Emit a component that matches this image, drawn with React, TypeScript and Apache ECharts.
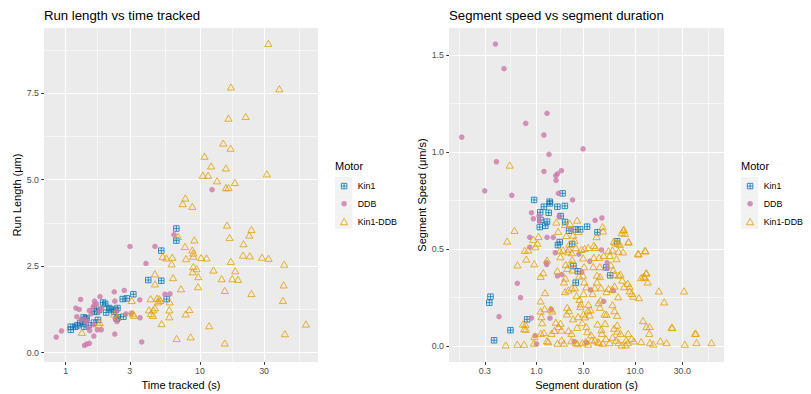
import React, { useEffect, useRef } from 'react';
import * as echarts from 'echarts';

// ---------- Data: left panel (time tracked [s], run length [µm]) ----------
const runKin1: [number, number][] = [
  [6.67, 3.59], [6.67, 3.24], [5.15, 2.95], [4.12, 2.10], [5.15, 2.08], [3.19, 1.69], [2.85, 1.57],
  [2.66, 1.55], [5.65, 1.55], [1.90, 1.45], [1.97, 1.41], [2.43, 1.29], [2.36, 1.24], [2.29, 1.18],
  [2.11, 1.29], [2.16, 1.25], [2.00, 1.16], [1.77, 1.24], [1.64, 1.20], [1.70, 1.18], [2.69, 1.04],
  [2.45, 1.02], [2.40, 0.98], [1.74, 0.95], [1.62, 0.87], [1.48, 0.79], [1.43, 1.00], [1.36, 1.02],
  [1.40, 0.97], [1.34, 0.89], [1.28, 0.85], [1.22, 0.79], [1.18, 0.75], [1.37, 0.75], [1.09, 0.75],
  [1.09, 0.66],
];
const runDdb: [number, number][] = [
  [12.3, 4.71], [6.41, 3.41], [3.01, 3.07], [4.62, 3.07], [3.96, 2.58], [2.30, 1.76], [2.73, 1.80],
  [1.80, 1.62], [1.29, 1.54], [1.64, 1.49], [1.70, 1.41], [1.63, 1.37], [1.60, 1.32], [1.19, 1.29],
  [1.26, 1.25], [1.50, 1.22], [1.21, 1.04], [1.29, 0.95], [2.32, 1.49], [2.40, 1.21], [3.56, 1.53],
  [5.49, 1.69], [5.98, 1.70], [2.81, 1.12], [3.08, 1.14], [3.58, 1.01], [2.34, 0.98], [2.41, 0.90],
  [1.38, 0.97], [1.43, 0.89], [1.47, 0.73], [1.62, 0.81], [1.51, 0.64], [1.72, 0.66], [1.84, 0.66],
  [1.62, 0.48], [2.32, 0.54], [0.85, 0.45], [0.93, 0.63], [1.38, 0.21], [1.43, 0.25], [1.50, 0.27],
  [3.68, 0.31], [1.76, 1.18], [1.85, 1.29], [1.55, 1.12],
];
const runKin1Ddb: [number, number][] = [
  [32.3, 8.94], [17.0, 7.68], [39.0, 7.63], [16.3, 6.78], [21.9, 6.83], [14.9, 6.06], [16.9, 5.91],
  [10.8, 5.68], [12.1, 5.40], [10.5, 5.13], [11.5, 5.13], [15.6, 5.34], [13.4, 4.97], [18.2, 4.92],
  [15.6, 4.77], [16.3, 4.77], [31.5, 5.17], [7.78, 4.47], [7.43, 4.31], [8.77, 4.23], [15.9, 3.69],
  [24.2, 3.56], [16.6, 3.33], [23.3, 3.40], [21.1, 3.15], [9.07, 3.26], [6.86, 3.36], [7.73, 3.07],
  [8.77, 2.97], [8.92, 2.88], [5.27, 2.78], [5.61, 2.74], [6.22, 2.76], [8.92, 2.79], [7.87, 2.72],
  [10.2, 2.75], [11.2, 2.74], [20.9, 2.82], [23.5, 2.80], [29.0, 2.76], [32.4, 2.73], [42.4, 2.56],
  [6.15, 2.57], [17.0, 2.64], [8.92, 2.49], [9.44, 2.43], [8.82, 2.34], [12.6, 2.39], [18.3, 2.37],
  [9.72, 2.20], [6.30, 2.17], [14.5, 2.14], [17.4, 2.14], [19.2, 2.12], [4.62, 2.28], [4.62, 1.99],
  [42.0, 1.96], [9.67, 1.91], [7.22, 1.85], [15.3, 1.80], [24.2, 1.71], [41.5, 1.51], [4.29, 1.56],
  [4.98, 1.56], [5.07, 1.51], [4.87, 1.47], [5.94, 1.47], [3.10, 1.51], [4.17, 1.24], [4.49, 1.24],
  [4.62, 1.30], [5.91, 1.24], [4.31, 1.13], [4.47, 1.08], [3.17, 1.13], [3.23, 1.08], [5.91, 1.04],
  [8.33, 1.25], [7.82, 1.12], [2.29, 1.12], [2.42, 1.04], [5.18, 0.84], [11.7, 0.78], [61.5, 0.83],
  [42.9, 0.55], [6.70, 0.41], [8.52, 0.46], [15.3, 0.28], [1.32, 0.59], [1.76, 0.81], [1.79, 0.88],
  [4.79, 1.58],
];

// ---------- Data: right panel (segment duration [s], segment speed [µm/s]) ----------
const segKin1: [number, number][] = [
  [0.342, 0.254], [0.333, 0.223], [0.372, 0.029], [0.545, 0.081], [0.804, 0.137], [0.947, 0.753],
  [1.84, 0.787], [1.36, 0.744], [1.37, 0.735], [1.19, 0.718], [1.63, 0.718], [1.94, 0.722],
  [1.09, 0.689], [1.33, 0.687], [1.76, 0.67], [1.10, 0.65], [1.28, 0.641], [1.08, 0.613],
  [1.23, 0.62], [1.95, 0.639], [2.14, 0.594], [2.50, 0.601], [2.77, 0.601], [3.26, 0.615],
  [4.15, 0.586], [1.72, 0.536], [6.57, 0.54], [1.65, 0.52], [2.30, 0.526], [2.37, 0.412],
  [2.62, 0.385], [5.08, 0.405], [5.58, 0.364], [2.50, 0.326],
];
const segDdb: [number, number][] = [
  [0.384, 1.557], [0.469, 1.43], [1.28, 1.20], [0.778, 1.148], [0.175, 1.077], [1.19, 1.088],
  [2.97, 1.017], [1.34, 0.988], [0.393, 0.95], [1.19, 0.90], [1.57, 0.878], [1.63, 0.888],
  [1.79, 0.904], [1.58, 0.854], [0.299, 0.80], [0.562, 0.777], [2.32, 0.753], [1.67, 0.787],
  [0.89, 0.687], [0.93, 0.656], [1.06, 0.67], [1.07, 0.644], [1.70, 0.668], [3.93, 0.648],
  [4.60, 0.66], [2.25, 0.60], [0.856, 0.56], [1.28, 0.56], [1.48, 0.56], [1.26, 0.43],
  [0.856, 0.509], [1.55, 0.481], [2.69, 0.474], [4.56, 0.495], [3.47, 0.436], [5.2, 0.43],
  [1.63, 0.361], [1.81, 0.368], [2.88, 0.38], [3.53, 0.289], [5.98, 0.285], [0.64, 0.323],
  [0.69, 0.249], [0.418, 0.151], [0.89, 0.144], [1.41, 0.189], [1.37, 0.143], [0.97, 0.053],
  [1.0, 0.01], [2.41, 0.022], [3.21, 0.017], [1.27, 0.42], [5.2, 0.40], [4.8, 0.23],
];
const segKin1Ddb: [number, number][] = [
  [0.536, 0.933], [0.598, 0.596], [0.505, 0.541], [0.762, 0.493], [0.823, 0.495], [0.977, 0.512],
  [1.05, 0.565], [0.79, 0.448], [0.95, 0.424], [0.642, 0.418], [1.28, 0.443], [1.10, 0.359],
  [1.59, 0.639], [1.94, 0.627], [2.18, 0.632], [2.58, 0.649], [2.01, 0.570], [2.35, 0.572],
  [2.65, 0.59], [1.66, 0.591], [2.43, 0.545], [2.15, 0.525], [2.12, 0.50], [1.72, 0.491],
  [1.86, 0.495], [2.08, 0.486], [2.28, 0.481], [2.50, 0.507], [2.86, 0.498], [3.07, 0.503],
  [3.34, 0.508], [3.81, 0.519], [3.95, 0.508], [4.67, 0.615], [4.73, 0.593], [4.06, 0.564],
  [7.68, 0.601], [7.33, 0.584], [8.55, 0.536], [6.08, 0.54], [5.37, 0.491], [5.89, 0.495],
  [6.77, 0.488], [7.55, 0.485], [4.81, 0.467], [5.53, 0.467], [6.47, 0.45], [10.8, 0.474],
  [12.6, 0.493], [3.81, 0.457], [4.31, 0.457], [2.97, 0.454], [1.75, 0.46], [2.3, 0.445],
  [1.17, 0.378], [1.63, 0.388], [1.98, 0.42], [2.05, 0.40], [2.26, 0.423], [2.32, 0.392],
  [3.04, 0.409], [3.76, 0.409], [4.38, 0.409], [4.10, 0.365], [4.40, 0.358], [5.67, 0.418],
  [5.98, 0.392], [6.17, 0.368], [7.1, 0.37], [6.8, 0.365], [7.4, 0.34], [13.0, 0.378],
  [12.5, 0.354], [13.4, 0.33], [17.4, 0.284], [31.3, 0.284], [19.7, 0.227], [10.9, 0.249],
  [9.24, 0.271], [8.8, 0.306], [8.4, 0.323], [7.7, 0.306], [9.6, 0.257], [8.8, 0.284],
  [2.11, 0.289], [2.28, 0.299], [1.95, 0.28], [2.7, 0.36], [2.95, 0.365], [3.05, 0.33],
  [3.2, 0.305], [1.90, 0.33], [1.96, 0.35], [1.22, 0.275], [1.10, 0.232], [1.21, 0.192],
  [1.12, 0.151], [1.39, 0.19], [1.45, 0.18], [1.10, 0.18], [2.05, 0.199], [2.14, 0.182],
  [2.03, 0.165], [2.79, 0.203], [2.81, 0.217], [3.36, 0.215], [3.33, 0.182], [3.45, 0.16],
  [4.45, 0.237], [4.25, 0.223], [4.39, 0.199], [4.89, 0.165], [5.12, 0.163], [5.89, 0.213],
  [6.72, 0.254], [6.17, 0.182], [5.12, 0.28], [5.37, 0.297], [5.89, 0.292], [6.17, 0.309],
  [6.57, 0.158], [4.96, 0.117], [6.57, 0.108], [3.53, 0.186], [3.1, 0.15], [3.0, 0.165],
  [2.64, 0.151], [2.35, 0.14], [1.75, 0.117], [1.67, 0.10], [1.79, 0.082], [1.57, 0.122],
  [1.42, 0.065], [1.52, 0.08], [1.11, 0.065], [1.19, 0.069], [1.32, 0.022], [1.28, 0.027],
  [0.955, 0.048], [0.94, 0.014], [0.774, 0.11], [0.75, 0.089], [0.488, 0.005], [0.64, 0.009],
  [0.75, 0.009], [2.11, 0.079], [2.26, 0.065], [2.58, 0.096], [3.26, 0.074], [3.58, 0.057],
  [3.90, 0.031], [3.63, 0.031], [4.2, 0.022], [2.26, 0.027], [2.5, 0.017], [2.6, 0.012],
  [1.63, 0.014], [1.9, 0.014], [1.8, 0.031], [2.92, 0.017], [3.15, 0.024], [3.35, 0.01],
  [4.6, 0.065], [5.05, 0.038], [5.5, 0.017], [4.3, 0.017], [4.7, 0.014], [4.15, 0.113],
  [4.55, 0.084], [6.1, 0.091], [6.6, 0.077], [7.1, 0.065], [8.5, 0.065], [9.2, 0.039],
  [8.1, 0.031], [8.4, 0.017], [9.7, 0.026], [11.5, 0.022], [8.0, 0.005], [12.0, 0.131],
  [13.0, 0.10], [13.9, 0.065], [14.0, 0.10], [23.4, 0.096], [41.2, 0.065], [41.8, 0.017],
  [31.8, 0.009], [59.3, 0.017], [20.8, 0.017], [18.0, 0.026], [15.2, 0.01], [14.1, 0.017],
  [7.3, 0.005], [6.8, 0.017], [7.57, 0.598], [7.87, 0.581], [8.57, 0.538], [6.3, 0.532],
  [6.7, 0.53], [7.0, 0.524], [10.7, 0.478], [12.7, 0.49], [12.9, 0.375], [11.5, 0.352],
  [12.2, 0.36], [23.8, 0.095], [40.4, 0.065], [1.14, 0.12], [0.93, 0.55], [1.02, 0.53],
  [0.73, 0.113], [0.78, 0.086], [2.73, 0.24], [2.55, 0.26], [3.0, 0.27], [2.45, 0.30],
  [3.7, 0.27], [3.9, 0.30], [4.5, 0.30], [4.1, 0.33], [2.9, 0.12], [3.2, 0.10], [5.9, 0.045],
  [6.4, 0.03],
];

// ---------- Axis breaks ----------
const motors = ['Kin1', 'DDB', 'Kin1-DDB'];
const runTimeTicks = [1, 3, 10, 30];
const runTimeMinor = [1.732, 5.477, 17.32, 54.77];
const runTimeRange = [0.689, 75.7];
const runLengthTicks = [0, 2.5, 5, 7.5];
const runLengthMinor = [1.25, 3.75, 6.25, 8.75];
const runLengthRange = [-0.269, 9.385];
const segDurTicks = [0.3, 1, 3, 10, 30];
const segDurMinor = [0.1643, 0.5477, 1.732, 5.477, 17.32, 54.77];
const segDurRange = [0.130, 79.4];
const segSpeedTicks = [0, 0.5, 1, 1.5];
const segSpeedMinor = [0.25, 0.75, 1.25];
const segSpeedRange = [-0.083, 1.64];

const FONT = '"Liberation Sans", Arial, Helvetica, sans-serif';
const lg = (v: number) => Math.log10(v);
const toLog = (pts: [number, number][]) => pts.map(([x, y]) => [lg(x), y]);

const COLORS = { Kin1: '#0072B2', DDB: '#CC79A7', 'Kin1-DDB': '#E69F00' } as Record<string, string>;
const squarePlus = 'path://M0 0H10V10H0Z M5 0V10 M0 5H10';
const legendIcons: Record<string, string> = {
  Kin1: 'path://M0 0M17.3 17.3M5.9 5.9H11.4V11.4H5.9Z M8.65 5.9V11.4 M5.9 8.65H11.4',
  DDB: 'path://M0 0M17.3 17.3M11.4 8.65A2.75 2.75 0 1 1 5.9 8.65A2.75 2.75 0 1 1 11.4 8.65Z',
  'Kin1-DDB': 'path://M0 0M17.3 17.3M8.65 5.5L12.3 11.8L5.0 11.8Z',
};

function majorAxis(gridIndex: number, range: number[], ticks: number[], fmt: (v: number) => string, isX: boolean, name: string, nameGap: number, logScale: boolean) {
  const t = logScale ? ticks.map(lg) : ticks;
  return {
    type: 'value',
    gridIndex,
    min: logScale ? lg(range[0]) : range[0],
    max: logScale ? lg(range[1]) : range[1],
    position: isX ? 'bottom' : 'left',
    name,
    nameLocation: 'middle',
    nameGap,
    nameTextStyle: { fontSize: 11, color: '#000000', fontFamily: FONT },
    axisLine: { show: false, onZero: false },
    axisTick: { show: true, length: 2.75, lineStyle: { color: '#333333', width: 1 }, customValues: t },
    axisLabel: { show: true, customValues: t, formatter: fmt, margin: isX ? 4 : 5, fontSize: 8.8, color: '#4D4D4D', fontFamily: FONT },
    splitLine: { show: true, lineStyle: { color: '#FFFFFF', width: 1.1 } },
  };
}
function minorAxis(gridIndex: number, range: number[], ticks: number[], isX: boolean, logScale: boolean) {
  const t = logScale ? ticks.map(lg) : ticks;
  return {
    type: 'value',
    gridIndex,
    min: logScale ? lg(range[0]) : range[0],
    max: logScale ? lg(range[1]) : range[1],
    position: isX ? 'top' : 'right',
    axisLine: { show: false, onZero: false },
    axisTick: { show: false, customValues: t },
    axisLabel: { show: false },
    splitLine: { show: true, lineStyle: { color: '#FFFFFF', width: 0.55 } },
  };
}

function makeSeries(name: string, data: [number, number][], axisIndex: number) {
  const base: any = {
    type: 'scatter',
    name,
    data: toLog(data),
    xAxisIndex: axisIndex,
    yAxisIndex: axisIndex,
    emphasis: { disabled: true },
  };
  if (name === 'Kin1') {
    base.symbol = squarePlus;
    base.symbolSize = 5.5;
    base.itemStyle = { color: 'rgba(0,0,0,0)', borderColor: COLORS.Kin1, borderWidth: 0.9, opacity: 0.85 };
  } else if (name === 'DDB') {
    base.symbol = 'circle';
    base.symbolSize = 5.5;
    base.itemStyle = { color: COLORS.DDB, opacity: 0.8 };
  } else {
    base.symbol = 'triangle';
    base.symbolSize = [7.2, 6.2];
    base.itemStyle = { color: 'rgba(0,0,0,0)', borderColor: COLORS['Kin1-DDB'], borderWidth: 0.9, opacity: 0.9 };
  }
  return base;
}

const KEY = 17.3;
function legendFor(left: number, top: number) {
  return {
    left,
    top,
    orient: 'vertical',
    padding: 0,
    itemGap: 0,
    itemWidth: KEY,
    itemHeight: KEY,
    selectedMode: false,
    textStyle: { fontSize: 8.8, color: '#000000', fontFamily: FONT },
    data: motors.map((m) => ({
      name: m,
      icon: legendIcons[m],
      itemStyle: { borderWidth: m === 'DDB' ? 0 : 0.9 },
    })),
  };
}
function legendKeys(left: number, top: number) {
  return motors.map((m, i) => ({
    type: 'rect',
    z: 0,
    shape: { x: left, y: top + i * KEY, width: KEY, height: KEY },
    style: { fill: '#F2F2F2' },
  }));
}

const LEG_TOP = 177;

export default function App() {
  const ref = useRef<HTMLDivElement>(null);
  useEffect(() => {
    if (!ref.current) return;
    const chart = echarts.init(ref.current, undefined, { renderer: 'svg' });
    const fmtInt = (v: number) => String(Math.round(Math.pow(10, v)));
    const fmt1Log = (v: number) => Math.pow(10, v).toFixed(1);
    const fmt1 = (v: number) => Number(v).toFixed(1);
    const option: any = {
      animation: false,
      backgroundColor: '#FFFFFF',
      textStyle: { fontFamily: FONT },
      title: [
        { text: 'Run length vs time tracked', left: 44, top: 9, padding: 0, textStyle: { fontSize: 13.2, fontWeight: 'normal', color: '#000000', fontFamily: FONT } },
        { text: 'Segment speed vs segment duration', left: 449, top: 9, padding: 0, textStyle: { fontSize: 13.2, fontWeight: 'normal', color: '#000000', fontFamily: FONT } },
        { text: 'Motor', left: 335, top: 160.5, padding: 0, textStyle: { fontSize: 11, fontWeight: 'normal', color: '#000000', fontFamily: FONT } },
        { text: 'Motor', left: 741, top: 160.5, padding: 0, textStyle: { fontSize: 11, fontWeight: 'normal', color: '#000000', fontFamily: FONT } },
      ],
      grid: [
        { left: 44, top: 28, width: 274, height: 334, show: true, backgroundColor: '#EBEBEB', borderWidth: 0, containLabel: false, outerBoundsMode: 'none' },
        { left: 449, top: 28, width: 275, height: 334, show: true, backgroundColor: '#EBEBEB', borderWidth: 0, containLabel: false, outerBoundsMode: 'none' },
      ],
      xAxis: [
        majorAxis(0, runTimeRange, runTimeTicks, fmtInt, true, 'Time tracked (s)', 14, true),
        minorAxis(0, runTimeRange, runTimeMinor, true, true),
        majorAxis(1, segDurRange, segDurTicks, fmt1Log, true, 'Segment duration (s)', 14, true),
        minorAxis(1, segDurRange, segDurMinor, true, true),
      ],
      yAxis: [
        majorAxis(0, runLengthRange, runLengthTicks, fmt1, false, 'Run Length (μm)', 21.5, false),
        minorAxis(0, runLengthRange, runLengthMinor, false, false),
        majorAxis(1, segSpeedRange, segSpeedTicks, fmt1, false, 'Segment Speed (μm/s)', 21.5, false),
        minorAxis(1, segSpeedRange, segSpeedMinor, false, false),
      ],
      legend: [legendFor(335, LEG_TOP), legendFor(741, LEG_TOP)],
      graphic: [...legendKeys(335, LEG_TOP), ...legendKeys(741, LEG_TOP)],
      series: [
        makeSeries('Kin1', runKin1, 0),
        makeSeries('DDB', runDdb, 0),
        makeSeries('Kin1-DDB', runKin1Ddb, 0),
        makeSeries('Kin1', segKin1, 2),
        makeSeries('DDB', segDdb, 2),
        makeSeries('Kin1-DDB', segKin1Ddb, 2),
      ],
    };
    chart.setOption(option);
    return () => chart.dispose();
  }, []);
  return <div ref={ref} style={{ position: 'fixed', left: 0, top: 0, width: 811, height: 394 }} />;
}
